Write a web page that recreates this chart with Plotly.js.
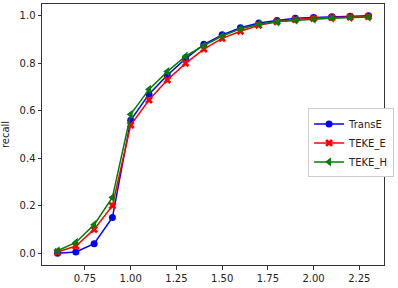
<!DOCTYPE html>
<html><head><meta charset="utf-8">
<script src="https://cdn.plot.ly/plotly-3.0.1.min.js"></script>
<style>body{margin:0;padding:0;background:#fff}#chart{width:398px;height:288px}</style>
</head><body><div id="chart"></div>
<script>
var xs = [0.6,0.7,0.8,0.9,1.0,1.1,1.2,1.3,1.4,1.5,1.6,1.7,1.8,1.9,2.0,2.1,2.2,2.3];
var transE = [0.0,0.005,0.04,0.15,0.56,0.67,0.75,0.82,0.88,0.92,0.95,0.97,0.98,0.99,0.993,0.996,0.998,1.0];
var tekeE = [0.005,0.03,0.10,0.20,0.54,0.645,0.73,0.80,0.86,0.905,0.935,0.96,0.975,0.985,0.99,0.993,0.995,0.997];
var tekeH = [0.01,0.045,0.12,0.235,0.585,0.69,0.765,0.83,0.875,0.915,0.945,0.965,0.975,0.982,0.986,0.99,0.993,0.995];
var names = ['TransE','TEKE_E','TEKE_H'];
var tickVals = [0.75,1.0,1.25,1.5,1.75,2.0,2.25];
var tickText = ['0.75','1.00','1.25','1.50','1.75','2.00','2.25'];
var yTickVals = [0,0.2,0.4,0.6,0.8,1.0];
var yTickText = ['0.0','0.2','0.4','0.6','0.8','1.0'];

var traces = [
  {x: xs, y: transE, name: names[0], mode:'lines+markers', line:{color:'#0000ff', width:1.5}, marker:{symbol:'circle', size:7, color:'#0000ff'}},
  {x: xs, y: tekeE, name: names[1], mode:'lines+markers', line:{color:'#ff0000', width:1.5}, marker:{symbol:'x', size:7, color:'#ff0000'}},
  {x: xs, y: tekeH, name: names[2], mode:'lines+markers', line:{color:'#008000', width:1.5}, marker:{symbol:'triangle-left', size:8, color:'#008000'}}
];
var layout = {
  width:398, height:288,
  margin:{l:42, r:5, t:4, b:23},
  paper_bgcolor:'#fff', plot_bgcolor:'#fff',
  font:{family:'DejaVu Sans', size:10, color:'#222'},
  xaxis:{range:[0.515,2.385], tickvals:tickVals, ticktext:tickText, showgrid:false, zeroline:false,
         showline:true, mirror:true, linecolor:'#333', linewidth:1, ticks:'outside', ticklen:3.5, tickcolor:'#333'},
  yaxis:{range:[-0.05,1.05], tickvals:yTickVals, ticktext:yTickText, showgrid:false, zeroline:false,
         showline:true, mirror:true, linecolor:'#333', linewidth:1, ticks:'outside', ticklen:3.5, tickcolor:'#333',
         title:{text:'recall', font:{size:10}, standoff:8}},
  legend:{x:0.778, y:0.6, xanchor:'left', yanchor:'top', bgcolor:'#fff', bordercolor:'#ccc', borderwidth:1,
          font:{size:10}, tracegroupgap:0},
  showlegend:true
};
Plotly.newPlot('chart', traces, layout, {displayModeBar:false, staticPlot:true});
</script></body></html>
